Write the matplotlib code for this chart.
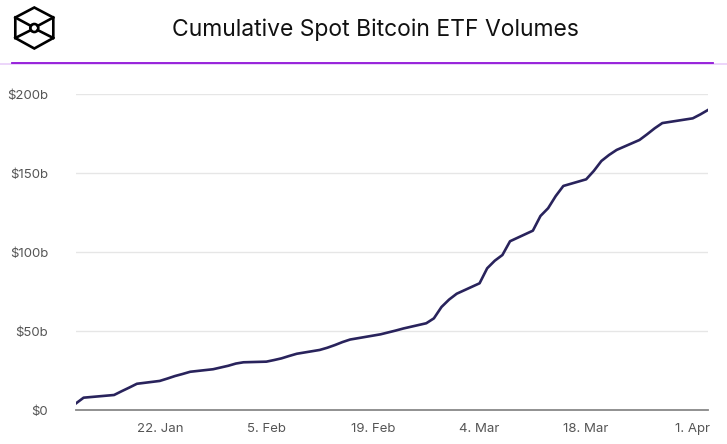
import matplotlib
matplotlib.use("Agg")
import matplotlib.pyplot as plt
from matplotlib.lines import Line2D
from matplotlib.patches import Circle, Polygon
import pandas as pd

# trading days and cumulative volume (billion USD)
dates = [
    "2024-01-11", "2024-01-12", "2024-01-16", "2024-01-17", "2024-01-18", "2024-01-19",
    "2024-01-22", "2024-01-23", "2024-01-24", "2024-01-25", "2024-01-26",
    "2024-01-29", "2024-01-30", "2024-01-31", "2024-02-01", "2024-02-02",
    "2024-02-05", "2024-02-06", "2024-02-07", "2024-02-08", "2024-02-09",
    "2024-02-12", "2024-02-13", "2024-02-14", "2024-02-15", "2024-02-16",
    "2024-02-20", "2024-02-21", "2024-02-22", "2024-02-23",
    "2024-02-26", "2024-02-27", "2024-02-28", "2024-02-29", "2024-03-01",
    "2024-03-04", "2024-03-05", "2024-03-06", "2024-03-07", "2024-03-08",
    "2024-03-11", "2024-03-12", "2024-03-13", "2024-03-14", "2024-03-15",
    "2024-03-18", "2024-03-19", "2024-03-20", "2024-03-21", "2024-03-22",
    "2024-03-25", "2024-03-26", "2024-03-27", "2024-03-28",
    "2024-04-01", "2024-04-02", "2024-04-03",
]
cum_volume = [
    4.2, 7.8, 9.5, 11.9, 14.2, 16.6,
    18.4, 19.9, 21.5, 22.8, 24.2,
    25.8, 26.9, 28.0, 29.4, 30.2,
    30.6, 31.6, 32.7, 34.2, 35.6,
    38.0, 39.4, 41.1, 43.0, 44.6,
    47.9, 49.1, 50.3, 51.6,
    54.9, 58.0, 65.2, 69.9, 73.6,
    80.2, 89.7, 94.5, 98.1, 106.8,
    113.5, 122.8, 127.7, 135.4, 141.8,
    146.0, 151.3, 157.6, 161.4, 164.6,
    170.9, 174.5, 178.3, 181.6,
    184.6, 187.1, 189.9,
]
tick_dates = ["2024-01-22", "2024-02-05", "2024-02-19", "2024-03-04", "2024-03-18", "2024-04-01"]
tick_labels = ["22. Jan", "5. Feb", "19. Feb", "4. Mar", "18. Mar", "1. Apr"]
y_ticks = [0, 50, 100, 150, 200]
y_labels = ["$0", "$50b", "$100b", "$150b", "$200b"]

plt.rcParams['font.family'] = ['Inter', 'DejaVu Sans']

x = pd.to_datetime(dates)

fig = plt.figure(figsize=(7.27, 4.44), dpi=100)
ax = fig.add_axes([76 / 727, 34 / 444, 632 / 727, 316 / 444])

ax.plot(x, cum_volume, color='#29235c', linewidth=1.9, solid_joinstyle='round', zorder=3)

ax.set_xlim(x[0], x[-1])
ax.set_ylim(0, 200)
ax.set_yticks(y_ticks)
ax.set_yticklabels(y_labels)
ax.set_xticks(pd.to_datetime(tick_dates))
ax.set_xticklabels(tick_labels)
ax.tick_params(axis='both', length=0, labelsize=9.5, labelcolor='#555555')
ax.tick_params(axis='y', pad=20)
ax.tick_params(axis='x', pad=9)

ax.grid(axis='y', color='#e6e6e6', linewidth=1)
ax.set_axisbelow(True)
for side in ['top', 'right', 'left']:
    ax.spines[side].set_visible(False)
ax.spines['bottom'].set_color('#888888')
ax.spines['bottom'].set_linewidth(1.3)
ax.spines['bottom'].set_zorder(4)

# header: title and separator
fig.text(375 / 727, 1 - 30 / 444, 'Cumulative Spot Bitcoin ETF Volumes',
         ha='center', va='center', fontsize=16.5, color='#111111')
fig.add_artist(Line2D([0, 1], [1 - 64 / 444] * 2, color='#ead2fa', linewidth=1.3,
                      transform=fig.transFigure))
fig.add_artist(Line2D([12 / 727, 713 / 727], [1 - 63 / 444] * 2, color='#9013d8',
                      linewidth=1.3, transform=fig.transFigure))

# logo: hexagon cube outline
lw = 1.9
lax = fig.add_axes([11.3 / 727, 1 - 51 / 444, 46 / 727, 46 / 444])
lax.set_xlim(-23, 23)
lax.set_ylim(-23, 23)
lax.axis('off')
hexv = [(0, 20.5), (19, 10.5), (19, -10), (0, -20.5), (-19, -10), (-19, 10.5)]
lax.add_patch(Polygon(hexv, closed=True, fill=False, edgecolor='black', linewidth=lw,
                      joinstyle='miter'))
lax.add_patch(Circle((0, 0), 4.0, fill=False, edgecolor='black', linewidth=lw))
lax.plot([-19, -3.4], [10.5, 2.1], color='black', linewidth=lw)
lax.plot([19, 3.4], [10.5, 2.1], color='black', linewidth=lw)
lax.plot([-19, -3.4], [-10, -2.1], color='black', linewidth=lw)
lax.plot([19, 3.4], [-10, -2.1], color='black', linewidth=lw)

fig.savefig('out.png', dpi=100)
